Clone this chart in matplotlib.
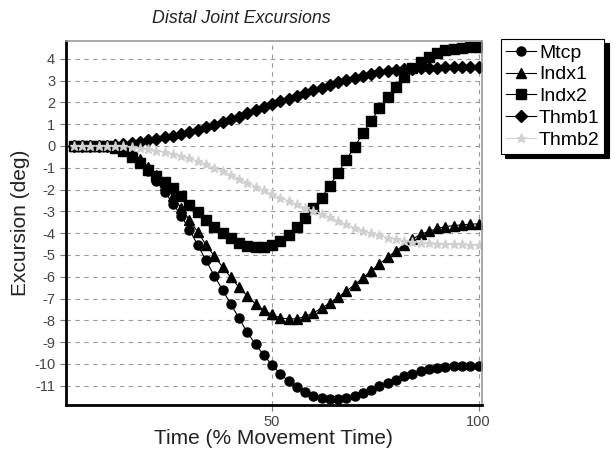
import numpy as np
import matplotlib
matplotlib.use("Agg")
import matplotlib.pyplot as plt

plt.rcParams['font.family'] = ['Liberation Sans', 'DejaVu Sans']
plt.rcParams['axes.unicode_minus'] = False

# time in % of movement, one sample every 2 %
time_pct = list(range(2, 101, 2))

mtcp = [0, 0, 0, 0, -0.02, -0.07, -0.2, -0.42, -0.75, -1.15,
        -1.6, -2.1, -2.65, -3.2, -3.85, -4.55, -5.25, -5.95, -6.6, -7.25,
        -7.9, -8.55, -9.1, -9.6, -10.05, -10.45, -10.8, -11.07, -11.3, -11.47,
        -11.57, -11.62, -11.6, -11.55, -11.45, -11.33, -11.18, -11.03, -10.87, -10.72,
        -10.57, -10.45, -10.34, -10.25, -10.18, -10.13, -10.1, -10.09, -10.08, -10.08]

indx1 = [0, 0, 0, 0, -0.02, -0.07, -0.18, -0.36, -0.62, -0.95,
         -1.35, -1.8, -2.3, -2.85, -3.4, -3.95, -4.53, -5.05, -5.55, -6.03,
         -6.48, -6.88, -7.25, -7.53, -7.73, -7.89, -7.93, -7.93, -7.82, -7.66,
         -7.44, -7.2, -6.93, -6.66, -6.36, -6.05, -5.72, -5.42, -5.1, -4.81,
         -4.53, -4.27, -4.05, -3.92, -3.78, -3.7, -3.65, -3.62, -3.59, -3.57]

indx2 = [0, 0, 0, 0, -0.02, -0.1, -0.25, -0.5, -0.8, -1.1,
         -1.38, -1.65, -1.95, -2.3, -2.7, -3.02, -3.38, -3.7, -4.0, -4.23,
         -4.43, -4.57, -4.65, -4.65, -4.53, -4.38, -4.07, -3.74, -3.3, -2.85,
         -2.38, -1.82, -1.22, -0.63, -0.03, 0.58, 1.15, 1.72, 2.25, 2.72,
         3.17, 3.56, 3.83, 4.08, 4.28, 4.39, 4.46, 4.5, 4.52, 4.53]

thmb1 = [0, 0, 0, 0, 0.02, 0.05, 0.1, 0.15, 0.2, 0.26,
         0.33, 0.4, 0.47, 0.55, 0.64, 0.74, 0.85, 0.97, 1.09, 1.22,
         1.35, 1.49, 1.63, 1.77, 1.92, 2.05, 2.17, 2.29, 2.42, 2.55,
         2.68, 2.8, 2.92, 3.03, 3.13, 3.22, 3.3, 3.37, 3.43, 3.47,
         3.51, 3.54, 3.56, 3.58, 3.59, 3.6, 3.6, 3.61, 3.61, 3.61]

thmb2 = [0, 0, 0, 0, 0, 0, -0.02, -0.06, -0.1, -0.15,
         -0.21, -0.28, -0.36, -0.46, -0.57, -0.7, -0.84, -0.99, -1.15, -1.32,
         -1.5, -1.68, -1.86, -2.03, -2.2, -2.37, -2.53, -2.68, -2.83, -2.97,
         -3.12, -3.28, -3.44, -3.6, -3.75, -3.88, -4.0, -4.1, -4.2, -4.28,
         -4.34, -4.39, -4.43, -4.46, -4.48, -4.5, -4.51, -4.52, -4.53, -4.53]

fig = plt.figure(figsize=(6.13, 4.54), dpi=100)
ax = fig.add_axes([0.107, 0.108, 0.679, 0.802])

ax.plot(time_pct, mtcp, marker="o", ms=6.5, color='k', lw=0.8, label="Mtcp")
ax.plot(time_pct, indx1, marker="^", ms=7, color='k', lw=0.8, label="Indx1")
ax.plot(time_pct, indx2, marker="s", ms=6.5, color='k', lw=0.8, label="Indx2")
ax.plot(time_pct, thmb1, marker="D", ms=6, color='k', lw=0.8, label="Thmb1")
ax.plot(time_pct, thmb2, marker="*", ms=6.5, color='#d0d0d0', lw=0.8, label="Thmb2")

ax.set_xlim(0, 100.8)
ax.set_ylim(-11.88, 4.82)
ax.set_xticks([50, 100])
ax.set_yticks(np.arange(-11, 5, 1))
ax.grid(True, color='#9a9a9a', linestyle=(0, (4, 4)), lw=0.8)
ax.set_axisbelow(True)
ax.tick_params(colors='#777777', labelsize=10.5, length=4, width=0.8)
ax.tick_params(labelcolor='#444444')

for s in ['left', 'bottom']:
    ax.spines[s].set_linewidth(2)
    ax.spines[s].set_color('k')
for s in ['top', 'right']:
    ax.spines[s].set_linewidth(1.2)
    ax.spines[s].set_color('#999999')

ax.set_xlabel("Time (% Movement Time)", fontsize=15, color='#222222', labelpad=0)
ax.set_ylabel("Excursion (deg)", fontsize=15, color='#222222', labelpad=3)
fig.text(0.393, 0.96, "Distal Joint Excursions", fontsize=12.8, style='italic',
         ha='center', va='center', color='#222222')

leg = ax.legend(loc='upper left', bbox_to_anchor=(1.046, 1.005), fontsize=14,
                frameon=True, fancybox=False,
                shadow={'color': 'k', 'alpha': 1, 'ox': 3, 'oy': -3},
                handlelength=1.55, handletextpad=0.15, borderpad=0.25,
                labelspacing=0.22, borderaxespad=0)
leg.get_frame().set_edgecolor('k')
leg.get_frame().set_linewidth(0.8)

fig.savefig("out.png", dpi=100)
